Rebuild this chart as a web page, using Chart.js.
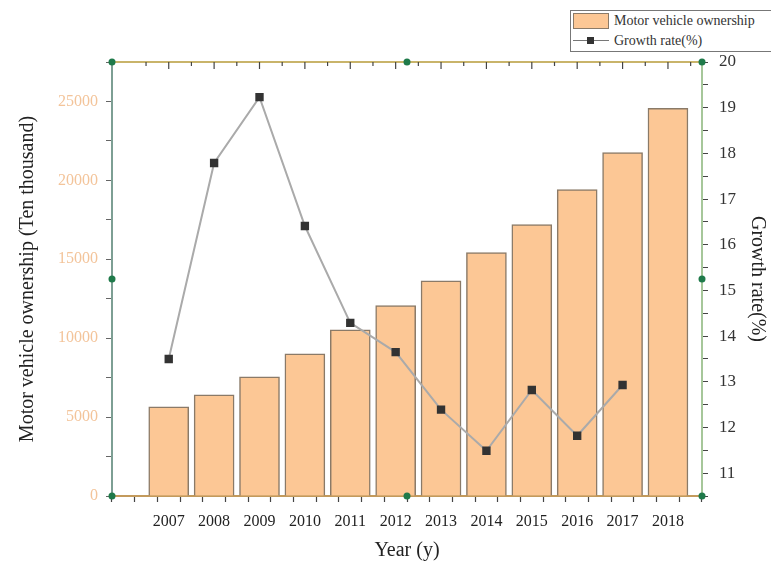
<!DOCTYPE html>
<html>
<head>
<meta charset="utf-8">
<script src="https://cdn.jsdelivr.net/npm/chart.js@4"></script>
<style>
  html, body { margin: 0; padding: 0; background: #fff; }
  #wrap { position: relative; width: 771px; height: 567px; overflow: hidden; }
  #legend {
    position: absolute; left: 570px; top: 10px; width: 215px; height: 40px;
    border: 1px solid #777; background: #fff;
    font-family: "Liberation Serif", serif; font-size: 14px; color: #333;
  }
  #legend .row { position: absolute; left: 0; height: 20px; line-height: 20px; }
  #legend .sw { position: absolute; left: 2px; top: 2px; width: 36px; height: 16px;
    background: #fcc795; border: 1px solid #8a7a68; box-sizing: border-box; }
  #legend .ln { position: absolute; left: 2px; top: 9px; width: 36px; height: 1px; background: #777; }
  #legend .mk { position: absolute; left: 16px; top: 6px; width: 7px; height: 7px; background: #333; }
  #legend .tx { position: absolute; left: 43px; white-space: nowrap; }
</style>
</head>
<body>
<div id="wrap">
  <canvas id="chart-motor" width="771" height="567"></canvas>
  <div id="legend">
    <div class="row" style="top:0"><div class="sw"></div><span class="tx">Motor vehicle ownership</span></div>
    <div class="row" style="top:20px"><div class="ln"></div><div class="mk"></div><span class="tx">Growth rate(%)</span></div>
  </div>
</div>
<script>
// data
const years = [2007, 2008, 2009, 2010, 2011, 2012, 2013, 2014, 2015, 2016, 2017, 2018];
const ownership = [5650, 6410, 7550, 9010, 10530, 12060, 13640, 15420, 17200, 19420, 21760, 24560];
const growthYears = [2007, 2008, 2009, 2010, 2011, 2012, 2013, 2014, 2015, 2016, 2017];
const growthRate = [13.50, 17.79, 19.23, 16.41, 14.29, 13.65, 12.39, 11.49, 12.82, 11.82, 12.93];

const serif = '"Liberation Serif", "Times New Roman", serif';

// axis frame + green handles like the Origin screenshot
const framePlugin = {
  id: 'frame',
  afterDraw(chart) {
    const ctx = chart.ctx, a = chart.chartArea, xs = chart.scales.x;
    ctx.save();
    ctx.strokeStyle = '#c9b46a';
    ctx.lineWidth = 2;
    ctx.beginPath();
    ctx.moveTo(a.left, a.top); ctx.lineTo(a.right, a.top);
    ctx.stroke();
    ctx.strokeStyle = '#444';
    ctx.lineWidth = 1.2;
    for (let v = 2006.5; v <= 2018.5; v += 0.5) {
      const px = xs.getPixelForValue(v);
      const len = Number.isInteger(v) ? 7 : 4;
      ctx.beginPath();
      ctx.moveTo(px, a.top); ctx.lineTo(px, a.top + len);
      ctx.stroke();
    }
    const mx = (a.left + a.right) / 2, my = (a.top + a.bottom) / 2;
    const pts = [[a.left, a.top], [mx, a.top], [a.right, a.top], [a.left, my],
                 [a.right, my], [a.left, a.bottom], [mx, a.bottom], [a.right, a.bottom]];
    ctx.fillStyle = '#1f7a4a';
    pts.forEach(p => {
      ctx.beginPath();
      ctx.arc(p[0], p[1], 3.5, 0, Math.PI * 2);
      ctx.fill();
    });
    ctx.restore();
  }
};

const data_motor = {
  datasets: [{
    type: 'line',
    label: 'Growth rate(%)',
    data: growthYears.map((y, i) => ({x: y, y: growthRate[i]})),
    yAxisID: 'y1',
    borderColor: '#aaaaaa',
    borderWidth: 2,
    pointStyle: 'rect',
    pointRadius: 4.5,
    pointBackgroundColor: '#333',
    pointBorderColor: '#333',
    order: 1
  }, {
    type: 'bar',
    label: 'Motor vehicle ownership',
    data: years.map((y, i) => ({x: y, y: ownership[i]})),
    yAxisID: 'y',
    backgroundColor: '#fcc795',
    borderColor: '#8a7a68',
    borderWidth: 1.5,
    barThickness: 40,
    order: 2
  }]
};

const config_motor = {
  type: 'bar',
  data: data_motor,
  plugins: [framePlugin],
  options: {
    responsive: false,
    animation: false,
    layout: {padding: {top: 62, left: 0, right: 0, bottom: 0}},
    plugins: {legend: {display: false}, tooltip: {enabled: false}},
    scales: {
      x: {
        type: 'linear',
        min: 2006, max: 2018.5,
        afterFit: s => { s.height = 71; },
        border: {color: '#c39a5c', width: 2},
        grid: {drawOnChartArea: false, tickLength: 6, tickColor: '#444', tickWidth: 1.2},
        ticks: {
          stepSize: 0.5, autoSkip: false, maxRotation: 0, padding: 10,
          color: '#222', font: {family: serif, size: 16},
          callback: v => (Number.isInteger(v) && v >= 2007) ? String(v) : ''
        },
        title: {display: true, text: 'Year (y)', color: '#222',
                font: {family: serif, size: 20}, padding: {top: 9}}
      },
      y: {
        position: 'left',
        min: 0, max: 27500,
        afterFit: s => { s.width = 112; },
        border: {color: '#7d9f94', width: 2},
        grid: {drawOnChartArea: false, tickLength: 6, tickColor: '#666', tickWidth: 1},
        ticks: {
          stepSize: 2500, autoSkip: false, padding: 8, color: '#f3c49a',
          font: {family: serif, size: 16},
          callback: v => (v % 5000 === 0) ? String(v) : ''
        },
        title: {display: true, text: 'Motor vehicle ownership (Ten thousand)', color: '#222',
                font: {family: serif, size: 20}, padding: {top: 16, bottom: 0}}
      },
      y1: {
        position: 'right',
        min: 10.5, max: 20,
        afterFit: s => { s.width = 69; },
        border: {color: '#a6c79a', width: 2},
        grid: {drawOnChartArea: false, tickLength: 6, tickColor: '#444', tickWidth: 1},
        ticks: {
          stepSize: 0.5, autoSkip: false, padding: 11, color: '#333',
          font: {family: serif, size: 17},
          callback: v => Number.isInteger(v) ? String(v) : ''
        },
        title: {display: true, text: 'Growth rate(%)', color: '#222',
                font: {family: serif, size: 20}, padding: {top: 2}}
      }
    }
  }
};

const myChart_motor = new Chart(
  document.getElementById('chart-motor'),
  config_motor
);
</script>
</body>
</html>
